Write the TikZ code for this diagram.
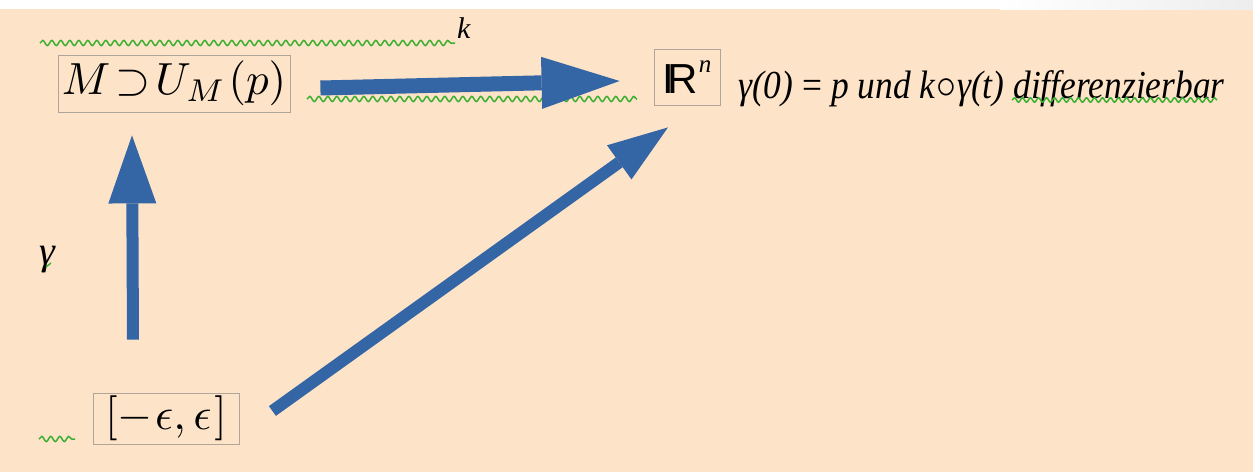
\documentclass[tikz,border=0pt]{standalone}
\usepackage{amsmath}
\usepackage{fontspec}
\newfontfamily\libserif{Liberation Serif}
\newfontfamily\libsans{Liberation Sans}
\usetikzlibrary{arrows.meta,decorations.pathmorphing}
\definecolor{peach}{RGB}{253,228,200}
\definecolor{arrowblue}{RGB}{52,101,164}
\definecolor{wavegreen}{RGB}{60,175,50}
\definecolor{boxgray}{RGB}{175,165,155}
\begin{document}
\begin{tikzpicture}[x=1pt,y=-1pt,
  mathbox/.style={draw=boxgray, line width=0.8pt, inner sep=0pt, anchor=center},
  bigarrow/.style={draw=arrowblue, line cap=butt},
  wavy/.style={draw=wavegreen, line width=1.5pt, decorate,
    decoration={snake, segment length=9pt, amplitude=2.6pt}},
  serifit/.style={font=\libserif\itshape, inner sep=0pt}]
% background
\fill[peach] (0,0) rectangle (1253,472);
\fill[white] (0,0) rectangle (1000,9);
\shade[left color=white, right color=black!7] (1000,0) rectangle (1253,9);
\useasboundingbox (0,0) rectangle (1253,472);

% nodes
\node[mathbox, minimum width=232pt, minimum height=57pt] (mu) at (174,83.5)
  {\scalebox{4.5}{$M\mskip2mu{\supset}\mskip2mu U_M\mskip1mu(p)$}};
\node[mathbox, minimum width=66pt, minimum height=56pt] (rn) at (687,77)
  {\libsans\fontsize{42}{48}\selectfont I\kern-7pt R\kern1pt\raisebox{21pt}{\libserif\itshape\fontsize{25}{28}\selectfont n}};
\node[mathbox, minimum width=146pt, minimum height=51pt] (eps) at (166,418.5)
  {\scalebox{4.5}{$[-\mskip1mu\epsilon,\epsilon\mskip1mu]$}};
\node[serifit, anchor=base west] (cond) at (738,98)
  {\scalebox{1}[1.12]{\fontsize{35.4}{40}\selectfont γ(0) {\upshape=} p und k\kern1pt\scalebox{1.6}{$\circ$}\kern1pt γ(t) differenzierbar}};
\node[serifit, anchor=base west] (k) at (457,38) {\fontsize{30}{34}\selectfont k};
\node[serifit, anchor=base] (g) at (47,264) {\fontsize{40}{44}\selectfont γ};

% green wavy underlines
\draw[wavy] (40,43) -- (455,43);
\draw[wavy] (307,99) -- (637,99);
\draw[wavy, decoration={snake, segment length=8pt, amplitude=2.2pt}] (1012,100) -- (1217,100);
\draw[wavy] (39,439) -- (75,439);
\draw[draw=wavegreen, line width=1.4pt] (46,267) -- (51,263);

% arrows
\draw[bigarrow, line width=15pt, -{Triangle[length=78pt,width=52pt,line width=0pt]}]
  ([shift={(30,4.5)}]mu.east) -- ([shift={(-34,4)}]rn.west);
\draw[bigarrow, line width=12pt, -{Triangle[length=68pt,width=48pt,line width=0pt]}]
  ([shift={(-33,-53)}]eps.north) -- ([shift={(-42,23)}]mu.south);
\draw[bigarrow, line width=12pt, -{Triangle[length=60pt,width=42pt,line width=0pt]}]
  ([shift={(33,-7.5)}]eps.east) -- ([shift={(-19,22)}]rn.south);
\end{tikzpicture}
\end{document}
